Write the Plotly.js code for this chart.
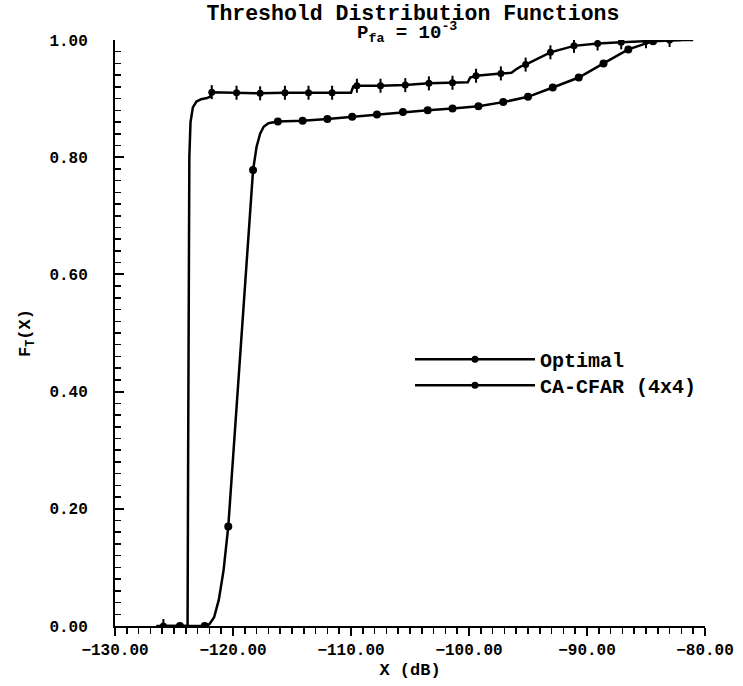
<!DOCTYPE html>
<html>
<head>
<meta charset="utf-8">
<script src="https://cdn.plot.ly/plotly-3.0.1.min.js"></script>
<style>html,body{margin:0;padding:0;background:#fff;}#chart{width:743px;height:686px;}</style>
</head>
<body>
<div id="chart"></div>
<script>
// Optimal threshold CDF (curve)
const optX = [-126.0, -125.0, -124.2, -123.85, -123.8, -123.75, -123.7, -123.6, -123.4, -123.1, -122.7, -122.2, -121.95, -121.8, -119.7, -117.7, -115.6, -113.6, -111.6, -110.0, -109.8, -109.5, -107.5, -105.4, -103.4, -101.4, -100.1, -99.9, -99.4, -97.3, -96.4, -96.0, -95.6, -95.2, -93.1, -91.1, -89.1, -87.1, -85.0, -83.0, -81.0];
const optY = [0, 0, 0, 0, 0.30, 0.60, 0.80, 0.86, 0.885, 0.895, 0.899, 0.901, 0.903, 0.911, 0.910, 0.909, 0.910, 0.910, 0.910, 0.910, 0.921, 0.922, 0.922, 0.923, 0.926, 0.927, 0.928, 0.936, 0.939, 0.943, 0.944, 0.950, 0.955, 0.958, 0.979, 0.990, 0.994, 0.996, 0.998, 1.0, 1.0];
// Optimal markers
const optMX = [-125.9, -121.8, -119.7, -117.7, -115.6, -113.6, -111.6, -109.5, -107.5, -105.4, -103.4, -101.4, -99.4, -97.3, -95.2, -93.1, -91.1, -89.1, -87.1, -85.0, -83.0];
const optMY = [0, 0.911, 0.910, 0.909, 0.910, 0.910, 0.910, 0.922, 0.922, 0.923, 0.926, 0.927, 0.939, 0.943, 0.958, 0.979, 0.990, 0.994, 0.996, 0.998, 1.0];
// CA-CFAR (4x4) threshold CDF (curve)
const caX = [-126.5, -122.4, -122.0, -121.6, -121.2, -120.8, -120.4, -120.0, -119.5, -119.0, -118.6, -118.3, -118.0, -117.7, -117.4, -117.0, -116.2, -114.1, -112.0, -109.9, -107.8, -105.6, -103.5, -101.4, -99.2, -97.1, -95.0, -92.9, -90.7, -88.6, -86.5, -84.4, -82.0];
const caY = [0, 0, 0.003, 0.015, 0.045, 0.095, 0.17, 0.285, 0.43, 0.575, 0.695, 0.778, 0.818, 0.84, 0.852, 0.858, 0.861, 0.862, 0.865, 0.869, 0.873, 0.877, 0.880, 0.883, 0.887, 0.894, 0.903, 0.919, 0.936, 0.960, 0.984, 0.998, 1.0];
// CA-CFAR markers
const caMX = [-124.5, -122.4, -120.4, -118.3, -116.2, -114.1, -112.0, -109.9, -107.8, -105.6, -103.5, -101.4, -99.2, -97.1, -95.0, -92.9, -90.7, -88.6, -86.5, -84.4];
const caMY = [0, 0, 0.17, 0.778, 0.861, 0.862, 0.865, 0.869, 0.873, 0.877, 0.880, 0.883, 0.887, 0.894, 0.903, 0.919, 0.936, 0.960, 0.984, 0.998];

const seriesNames = ['Optimal', 'CA-CFAR (4x4)'];
const xTicks = [-130, -120, -110, -100, -90, -80];
const yTicks = [0, 0.2, 0.4, 0.6, 0.8, 1.0];

const F = 'Liberation Mono';
const traces = [
  {x: optX, y: optY, mode: 'lines', line: {color: '#000', width: 2.5}, showlegend: false, hoverinfo: 'skip'},
  {x: caX, y: caY, mode: 'lines', line: {color: '#000', width: 2.5}, showlegend: false, hoverinfo: 'skip'},
  {x: optMX, y: optMY, mode: 'markers', marker: {symbol: 'line-ns', size: 10, line: {color: '#000', width: 2}}, showlegend: false, hoverinfo: 'skip'},
  {x: optMX, y: optMY, mode: 'markers', marker: {symbol: 'circle', size: 7, color: '#000'}, showlegend: false},
  {x: caMX, y: caMY, mode: 'markers', marker: {symbol: 'circle', size: 8, color: '#000'}, showlegend: false},
  {x: [null], y: [null], mode: 'lines+markers', name: seriesNames[0], legend: 'legend', line: {color: '#000', width: 2.5}, marker: {symbol: 'circle', size: 7, color: '#000'}},
  {x: [null], y: [null], mode: 'lines+markers', name: seriesNames[1], legend: 'legend2', line: {color: '#000', width: 2.5}, marker: {symbol: 'circle', size: 7, color: '#000'}}
];

const legFont = {family: F, size: 20, weight: 'bold', color: '#000'};
const layout = {
  width: 743, height: 686,
  margin: {l: 115, r: 38, t: 40, b: 60},
  paper_bgcolor: '#fff', plot_bgcolor: '#fff',
  font: {family: F, color: '#000', size: 16, weight: 'bold'},
  title: {text: 'Threshold Distribution Functions', x: 0.505, xref: 'paper', y: 0.993, yref: 'container', yanchor: 'top', font: {family: F, size: 21.5, weight: 'bold', color: '#000'}},
  annotations: [
    {text: 'P<sub>fa</sub> = 10<sup>-3</sup>', xref: 'paper', yref: 'paper', x: 0.495, y: 1.012, xanchor: 'center', yanchor: 'middle', showarrow: false, font: {family: F, size: 19, weight: 'bold', color: '#000'}}
  ],
  xaxis: {
    range: [-130, -80], tickvals: xTicks, tickformat: '.2f', showgrid: false, zeroline: false,
    showline: true, linecolor: '#000', linewidth: 2, ticks: 'outside', ticklen: 8, tickwidth: 2, tickcolor: '#000',
    minor: {dtick: 1, ticks: 'outside', ticklen: 6, tickwidth: 1.5, tickcolor: '#000', showgrid: false},
    tickfont: {family: F, size: 16, weight: 'bold'},
    title: {text: 'X (dB)', standoff: 4, font: {family: F, size: 17, weight: 'bold'}}
  },
  yaxis: {
    range: [0, 1], tickvals: yTicks, tickformat: '.2f', showgrid: false, zeroline: false,
    showline: true, linecolor: '#000', linewidth: 2, ticks: 'inside', ticklen: 9, tickwidth: 2, tickcolor: '#000',
    minor: {dtick: 0.02, ticks: 'inside', ticklen: 6, tickwidth: 1.5, tickcolor: '#000', showgrid: false},
    tickfont: {family: F, size: 16, weight: 'bold'},
    ticklabelstandoff: 22,
    title: {text: 'F<sub>T</sub>(X)', standoff: 14, font: {family: F, size: 17, weight: 'bold'}}
  },
  legend: {x: 0.5, y: 0.455, xanchor: 'left', yanchor: 'middle', bgcolor: 'rgba(0,0,0,0)', font: legFont, itemwidth: 120},
  legend2: {x: 0.5, y: 0.411, xanchor: 'left', yanchor: 'middle', bgcolor: 'rgba(0,0,0,0)', font: legFont, itemwidth: 120}
};

Plotly.newPlot('chart', traces, layout, {displayModeBar: false, staticPlot: true});
</script>
</body>
</html>
